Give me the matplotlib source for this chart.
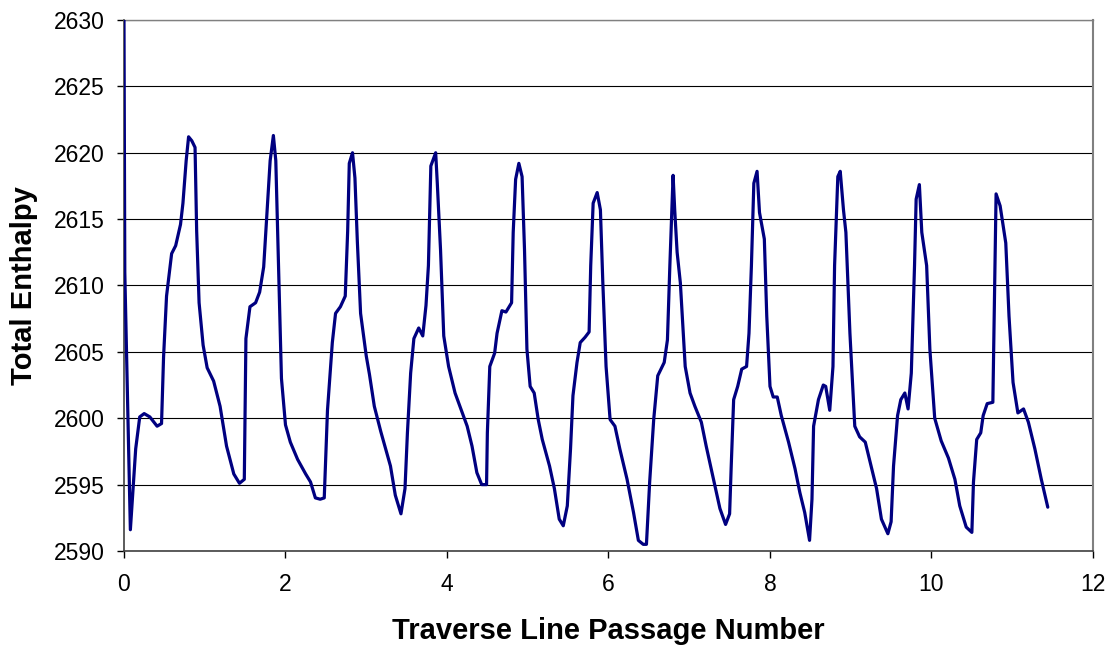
import matplotlib
matplotlib.use("Agg")
import matplotlib.pyplot as plt

plt.rcParams['font.family'] = ['Liberation Sans', 'DejaVu Sans']

# passage number vs total enthalpy
passage = [
    0.00, 0.01, 0.079, 0.145, 0.195, 0.25, 0.32, 0.41, 0.465, 0.49,
    0.527, 0.59, 0.64, 0.70, 0.73, 0.77, 0.80, 0.84, 0.88, 0.90,
    0.93, 0.98, 1.03, 1.11, 1.19, 1.27, 1.36, 1.43, 1.49, 1.51,
    1.56, 1.63, 1.68, 1.73, 1.77, 1.81, 1.85, 1.88, 1.92, 1.95,
    2.00, 2.06, 2.15, 2.25, 2.31, 2.37, 2.43, 2.48, 2.52, 2.58,
    2.62, 2.68, 2.74, 2.77, 2.79, 2.83, 2.86, 2.89, 2.93, 3.00,
    3.04, 3.10, 3.18, 3.30, 3.36, 3.43, 3.48, 3.51, 3.55, 3.59,
    3.65, 3.70, 3.74, 3.77, 3.80, 3.86, 3.88, 3.92, 3.96, 4.02,
    4.10, 4.25, 4.31, 4.37, 4.43, 4.49, 4.50, 4.53, 4.59, 4.62,
    4.68, 4.73, 4.80, 4.82, 4.85, 4.89, 4.93, 4.96, 4.99, 5.03,
    5.08, 5.13, 5.18, 5.27, 5.33, 5.39, 5.44, 5.49, 5.53, 5.56,
    5.61, 5.65, 5.71, 5.76, 5.78, 5.81, 5.86, 5.90, 5.93, 5.97,
    6.02, 6.08, 6.14, 6.23, 6.31, 6.37, 6.43, 6.47, 6.51, 6.56,
    6.61, 6.65, 6.69, 6.73, 6.76, 6.80, 6.82, 6.85, 6.89, 6.95,
    7.01, 7.07, 7.15, 7.21, 7.29, 7.38, 7.45, 7.50, 7.52, 7.55,
    7.60, 7.65, 7.71, 7.74, 7.77, 7.80, 7.84, 7.87, 7.93, 7.96,
    8.00, 8.04, 8.09, 8.14, 8.23, 8.31, 8.37, 8.43, 8.49, 8.52,
    8.54, 8.60, 8.66, 8.69, 8.74, 8.78, 8.80, 8.84, 8.87, 8.91,
    8.94, 8.99, 9.05, 9.11, 9.18, 9.24, 9.32, 9.38, 9.46, 9.50,
    9.53, 9.58, 9.62, 9.67, 9.71, 9.75, 9.79, 9.81, 9.85, 9.88,
    9.94, 9.98, 10.04, 10.12, 10.21, 10.29, 10.35, 10.43, 10.50, 10.52,
    10.56, 10.61, 10.64, 10.69, 10.76, 10.78, 10.80, 10.85, 10.92, 10.96,
    11.01, 11.07, 11.14, 11.20, 11.28, 11.36, 11.44,
]
enthalpy = [
    2630.0, 2611.0, 2591.6, 2597.7, 2600.1, 2600.35, 2600.1, 2599.4, 2599.6, 2604.6,
    2609.2, 2612.4, 2613.0, 2614.6, 2616.2, 2619.4, 2621.2, 2620.9, 2620.4, 2614.1,
    2608.7, 2605.5, 2603.8, 2602.8, 2600.9, 2597.9, 2595.8, 2595.1, 2595.4, 2606.0,
    2608.4, 2608.7, 2609.5, 2611.4, 2615.4, 2619.4, 2621.3, 2619.4, 2610.0, 2603.0,
    2599.5, 2598.2, 2596.9, 2595.8, 2595.2, 2594.0, 2593.9, 2594.0, 2600.6, 2605.7,
    2607.9, 2608.4, 2609.2, 2614.1, 2619.2, 2620.0, 2618.1, 2613.3, 2607.9, 2604.7,
    2603.3, 2600.9, 2599.0, 2596.4, 2594.2, 2592.8, 2594.7, 2598.9, 2603.4, 2606.0,
    2606.8, 2606.2, 2608.5, 2611.5, 2619.0, 2620.0, 2617.7, 2612.7, 2606.2, 2603.9,
    2601.9, 2599.4, 2597.9, 2595.9, 2595.0, 2595.0, 2598.9, 2603.9, 2604.9, 2606.4,
    2608.1, 2608.0, 2608.7, 2614.0, 2618.0, 2619.2, 2618.2, 2612.7, 2605.2, 2602.4,
    2601.9, 2599.9, 2598.4, 2596.4, 2594.7, 2592.4, 2591.9, 2593.4, 2597.7, 2601.7,
    2604.2, 2605.7, 2606.1, 2606.5, 2611.5, 2616.2, 2617.0, 2615.7, 2610.2, 2603.9,
    2599.9, 2599.4, 2597.7, 2595.4, 2592.9, 2590.8, 2590.5, 2590.5, 2595.2, 2599.9,
    2603.2, 2603.7, 2604.2, 2605.9, 2611.5, 2618.3, 2615.7, 2612.5, 2610.2, 2603.9,
    2601.9, 2600.9, 2599.7, 2597.9, 2595.7, 2593.2, 2592.0, 2592.8, 2596.4, 2601.4,
    2602.4, 2603.7, 2603.9, 2606.4, 2611.5, 2617.7, 2618.6, 2615.5, 2613.5, 2607.7,
    2602.4, 2601.6, 2601.6, 2600.2, 2598.2, 2596.2, 2594.4, 2592.9, 2590.8, 2593.9,
    2599.4, 2601.4, 2602.5, 2602.4, 2600.6, 2603.9, 2611.5, 2618.2, 2618.6, 2615.7,
    2614.0, 2606.4, 2599.4, 2598.6, 2598.2, 2596.7, 2594.7, 2592.4, 2591.3, 2592.2,
    2596.4, 2600.2, 2601.4, 2601.9, 2600.7, 2603.4, 2611.5, 2616.5, 2617.6, 2614.0,
    2611.5, 2605.2, 2600.0, 2598.3, 2597.0, 2595.4, 2593.4, 2591.8, 2591.4, 2595.2,
    2598.4, 2598.9, 2600.2, 2601.1, 2601.2, 2609.0, 2616.9, 2616.0, 2613.2, 2607.7,
    2602.7, 2600.4, 2600.7, 2599.7, 2597.7, 2595.4, 2593.3,
]

x_ticks = [0, 2, 4, 6, 8, 10, 12]
y_ticks = [2590, 2595, 2600, 2605, 2610, 2615, 2620, 2625, 2630]

fig = plt.figure(figsize=(11.12, 6.47), dpi=100)
ax = fig.add_axes([0.1115, 0.1484, 0.8714, 0.8207])

ax.plot(passage, enthalpy, color='#000080', lw=2.3, solid_joinstyle='round',
        solid_capstyle='round', zorder=3)

ax.set_xlim(0, 12)
ax.set_ylim(2590, 2630)
ax.set_xticks(x_ticks)
ax.set_yticks(y_ticks)
ax.yaxis.grid(True, color='black', lw=0.8)
ax.set_axisbelow(True)

ax.tick_params(direction='out', length=5, width=1, labelsize=16.5, colors='black')
ax.tick_params(axis='y', pad=9)
ax.tick_params(axis='x', pad=11)

for s in ['left', 'bottom']:
    ax.spines[s].set_color('#404040')
    ax.spines[s].set_linewidth(1.2)
ax.spines['right'].set_color('#808080')
ax.spines['right'].set_linewidth(1.5)
ax.spines['top'].set_color('#808080')
ax.spines['top'].set_linewidth(1.0)

ax.set_xlabel('Traverse Line Passage Number', fontsize=21, fontweight='bold')
ax.set_ylabel('Total Enthalpy', fontsize=21, fontweight='bold')
ax.xaxis.set_label_coords(0.5, -0.151)
ax.xaxis.label.set_va('center')
ax.yaxis.set_label_coords(-0.103, 0.5)
ax.yaxis.label.set_va('center')

fig.savefig('out.png', dpi=100)
